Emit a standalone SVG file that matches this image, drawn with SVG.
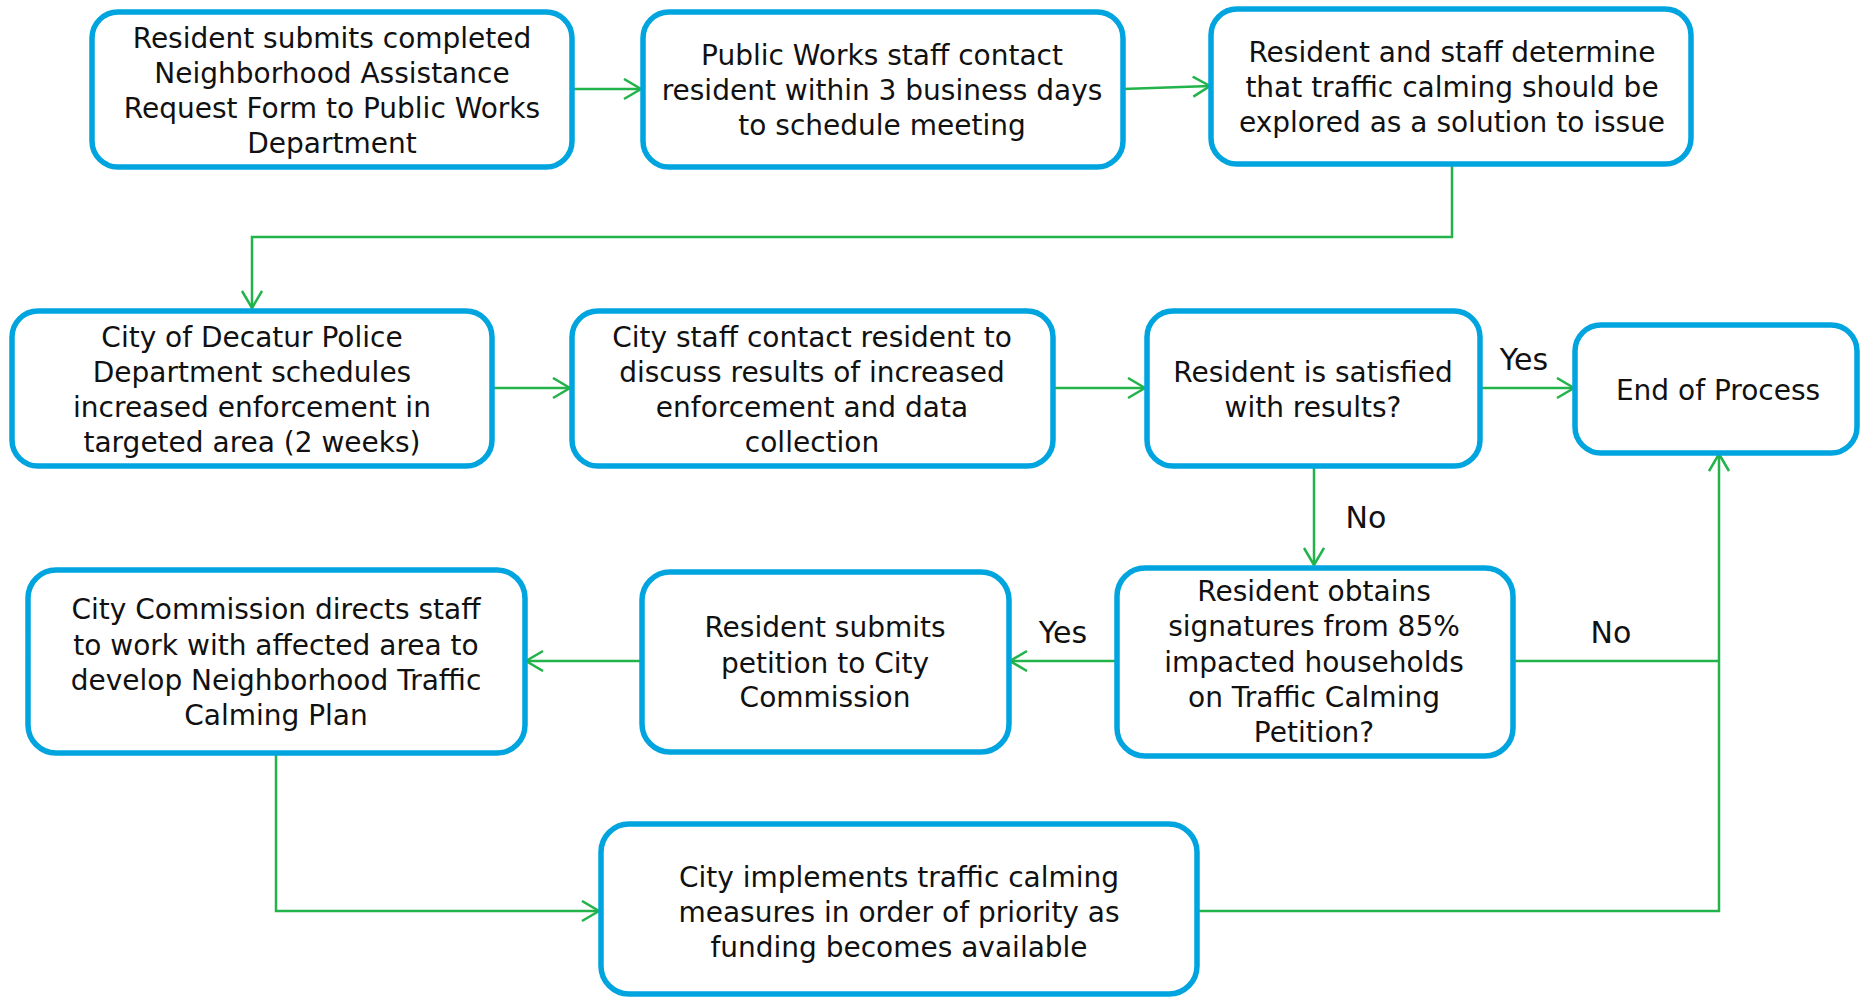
<svg xmlns="http://www.w3.org/2000/svg" width="1860" height="997" viewBox="0 0 1860 997">
<defs>
<style>
.box{fill:#fff;stroke:#00A5DF;stroke-width:5.5}
.t{font-family:"DejaVu Sans",sans-serif;font-size:28px;fill:#111;text-anchor:middle}
.lbl{font-family:"DejaVu Sans",sans-serif;font-size:30px;fill:#111;text-anchor:middle}
.c{fill:none;stroke:#22B34A;stroke-width:2.5}
</style>
<marker id="ah" markerUnits="userSpaceOnUse" markerWidth="22" markerHeight="26" refX="18" refY="11" orient="auto">
<path d="M1,1 L18,11 L1,21" fill="none" stroke="#22B34A" stroke-width="2.5"/>
</marker>
</defs>
<rect width="1860" height="997" fill="#fff"/>
<g id="connectors">
<path class="c" d="M572,89 L641,89" marker-end="url(#ah)"/>
<path class="c" d="M1123,89 L1210,86" marker-end="url(#ah)"/>
<path class="c" d="M1452,165 L1452,237 L252,237 L252,308" marker-end="url(#ah)"/>
<path class="c" d="M492,388 L570,388" marker-end="url(#ah)"/>
<path class="c" d="M1053,388 L1145,388" marker-end="url(#ah)"/>
<path class="c" d="M1480,388 L1574,388" marker-end="url(#ah)"/>
<path class="c" d="M1314,466 L1314,565" marker-end="url(#ah)"/>
<path class="c" d="M1116,661 L1010,661" marker-end="url(#ah)"/>
<path class="c" d="M641,661 L526,661" marker-end="url(#ah)"/>
<path class="c" d="M276,754 L276,911 L599,911" marker-end="url(#ah)"/>
<path class="c" d="M1513,661 L1719,661"/>
<path class="c" d="M1197,911 L1719,911 L1719,454" marker-end="url(#ah)"/>
<text class="lbl" x="1524" y="370">Yes</text>
<text class="lbl" x="1366" y="528">No</text>
<text class="lbl" x="1063" y="643">Yes</text>
<text class="lbl" x="1611" y="643">No</text>
</g>
<g id="n1">
<rect class="box" x="92" y="12" width="480" height="155" rx="26"/>
<text class="t" x="332" y="48">Resident submits completed</text>
<text class="t" x="332" y="83">Neighborhood Assistance</text>
<text class="t" x="332" y="118">Request Form to Public Works</text>
<text class="t" x="332" y="153">Department</text>
</g>
<g id="n2">
<rect class="box" x="643" y="12" width="480" height="155" rx="26"/>
<text class="t" x="882" y="65">Public Works staff contact</text>
<text class="t" x="882" y="100">resident within 3 business days</text>
<text class="t" x="882" y="135">to schedule meeting</text>
</g>
<g id="n3">
<rect class="box" x="1211" y="9" width="480" height="155" rx="26"/>
<text class="t" x="1452" y="62">Resident and staff determine</text>
<text class="t" x="1452" y="97">that traffic calming should be</text>
<text class="t" x="1452" y="132">explored as a solution to issue</text>
</g>
<g id="n4">
<rect class="box" x="12" y="311" width="480" height="155" rx="26"/>
<text class="t" x="252" y="347">City of Decatur Police</text>
<text class="t" x="252" y="382">Department schedules</text>
<text class="t" x="252" y="417">increased enforcement in</text>
<text class="t" x="252" y="452">targeted area (2 weeks)</text>
</g>
<g id="n5">
<rect class="box" x="572" y="311" width="481" height="155" rx="26"/>
<text class="t" x="812" y="347">City staff contact resident to</text>
<text class="t" x="812" y="382">discuss results of increased</text>
<text class="t" x="812" y="417">enforcement and data</text>
<text class="t" x="812" y="452">collection</text>
</g>
<g id="n6">
<rect class="box" x="1147" y="311" width="333" height="155" rx="26"/>
<text class="t" x="1313" y="382">Resident is satisfied</text>
<text class="t" x="1313" y="417">with results?</text>
</g>
<g id="n7">
<rect class="box" x="1575" y="325" width="282" height="128" rx="26"/>
<text class="t" x="1718" y="400">End of Process</text>
</g>
<g id="n8">
<rect class="box" x="28" y="570" width="497" height="183" rx="28"/>
<text class="t" x="276" y="619">City Commission directs staff</text>
<text class="t" x="276" y="655">to work with affected area to</text>
<text class="t" x="276" y="690">develop Neighborhood Traffic</text>
<text class="t" x="276" y="725">Calming Plan</text>
</g>
<g id="n9">
<rect class="box" x="642" y="572" width="367" height="180" rx="28"/>
<text class="t" x="825" y="637">Resident submits</text>
<text class="t" x="825" y="673">petition to City</text>
<text class="t" x="825" y="707">Commission</text>
</g>
<g id="n10">
<rect class="box" x="1117" y="568" width="396" height="188" rx="28"/>
<text class="t" x="1314" y="601">Resident obtains</text>
<text class="t" x="1314" y="636">signatures from 85%</text>
<text class="t" x="1314" y="672">impacted households</text>
<text class="t" x="1314" y="707">on Traffic Calming</text>
<text class="t" x="1314" y="742">Petition?</text>
</g>
<g id="n11">
<rect class="box" x="601" y="824" width="596" height="170" rx="28"/>
<text class="t" x="899" y="887">City implements traffic calming</text>
<text class="t" x="899" y="922">measures in order of priority as</text>
<text class="t" x="899" y="957">funding becomes available</text>
</g>
</svg>
